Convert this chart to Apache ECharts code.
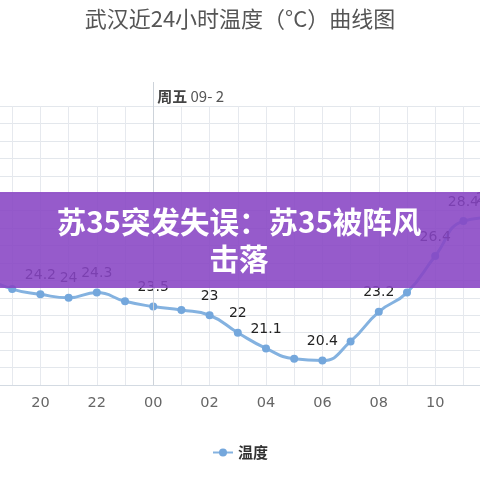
<!DOCTYPE html>
<html>
<head>
<meta charset="utf-8">
<script src="https://cdn.jsdelivr.net/npm/echarts@6/dist/echarts.min.js"></script>
<style>
html,body{margin:0;padding:0;background:#fff;}
#chart{width:480px;height:480px;}
</style>
</head>
<body>
<div id="chart"></div>
<script>
// Hours (categories) and temperatures
var hours = ['18','19','20','21','22','23','00','01','02','03','04','05','06','07','08','09','10','11','12'];
var temperature = [25.2,24.5,24.2,24.0,24.3,23.8,23.5,23.3,23.0,22.0,21.1,20.5,20.4,21.5,23.2,24.3,26.4,28.4,28.6];
var labelledHours = ['18','20','21','22','00','02','03','04','06','08','10','11','12'];
var xTickHours = ['20','22','00','02','04','06','08','10','12'];
var dayMarkHour = '00';
var dayMarkText = ['周五', '09- 2'];
var titleText = '武汉近24小时温度（°C）曲线图';
var seriesName = '温度';
var bannerText = '苏35突发失误：苏35被阵风\n击落';
var yMin = 19, yMax = 35, yStep = 1;

var dayIdx = hours.indexOf(dayMarkHour);
var chart = echarts.init(document.getElementById('chart'), null, {renderer:'canvas'});
chart.setOption({
  backgroundColor: '#fff',
  animation: false,
  title: {
    text: titleText,
    left: 'center',
    top: 3,
    textStyle: {fontFamily: '"Noto Sans CJK SC"', fontSize: 22, fontWeight: 'normal', color: '#555'}
  },
  legend: {
    data: [seriesName],
    left: 'center',
    top: 440,
    itemWidth: 20,
    itemHeight: 10,
    textStyle: {fontFamily: '"Noto Sans CJK SC"', fontSize: 15, fontWeight: 'bold', color: '#333'}
  },
  grid: {left: -16, right: -11.6, top: 106, bottom: 95, containLabel: false, outerBoundsMode: 'none'},
  xAxis: {
    type: 'category',
    data: hours,
    boundaryGap: false,
    axisLine: {show: true, lineStyle: {color: '#d3dae2', width: 1}},
    axisTick: {show: false},
    axisLabel: {
      interval: function (i, v) { return xTickHours.indexOf(v) >= 0; },
      margin: 11,
      fontFamily: 'DejaVu Sans',
      fontSize: 14.5,
      color: '#666'
    },
    splitLine: {show: true, interval: 0, lineStyle: {color: '#e6e9ee', width: 1}}
  },
  yAxis: {
    type: 'value',
    min: yMin, max: yMax, interval: yStep,
    axisLine: {show: false},
    axisTick: {show: false},
    axisLabel: {show: false},
    splitLine: {show: true, lineStyle: {color: '#e3e7ec', width: 1}}
  },
  series: [{
    name: seriesName,
    type: 'line',
    data: temperature,
    smooth: 0.5,
    symbol: 'circle',
    symbolSize: 8,
    lineStyle: {color: '#84b2e0', width: 3},
    itemStyle: {color: '#74a7dc'},
    label: {
      show: true,
      position: 'top',
      distance: 8,
      fontFamily: 'DejaVu Sans',
      fontSize: 14,
      color: '#222',
      formatter: function (p) { return labelledHours.indexOf(hours[p.dataIndex]) >= 0 ? String(p.value) : ''; }
    },
    emphasis: {disabled: true},
    markLine: {
      silent: true,
      symbol: ['none', 'none'],
      label: {show: false},
      lineStyle: {color: '#cdd3da', width: 1, type: 'solid'},
      data: [[{xAxis: dayIdx, yAxis: yMin}, {xAxis: dayIdx, y: 82}]]
    },
    markPoint: {
      silent: true,
      symbol: 'circle',
      symbolSize: 0,
      label: {
        show: true,
        position: 'right',
        distance: 4,
        formatter: '{b|' + dayMarkText[0] + '} {n|' + dayMarkText[1] + '}',
        rich: {
          b: {fontFamily: '"Noto Sans CJK SC"', fontSize: 15, fontWeight: 'bold', color: '#444'},
          n: {fontFamily: '"Noto Sans CJK SC"', fontSize: 15, color: '#555'}
        }
      },
      data: [{xAxis: dayIdx, y: 96}]
    }
  }],
  graphic: [
    {
      type: 'rect',
      z: 100,
      silent: true,
      shape: {x: 0, y: 192, width: 480, height: 96},
      style: {fill: 'rgba(136, 68, 196, 0.88)'}
    },
    {
      type: 'text',
      z: 101,
      silent: true,
      style: {
        text: bannerText,
        x: 239, y: 240,
        align: 'center',
        verticalAlign: 'middle',
        fontFamily: '"Noto Sans CJK SC"',
        fontSize: 29.5,
        fontWeight: 'bold',
        lineHeight: 37,
        fill: '#fff'
      }
    }
  ]
});
</script>
</body>
</html>
